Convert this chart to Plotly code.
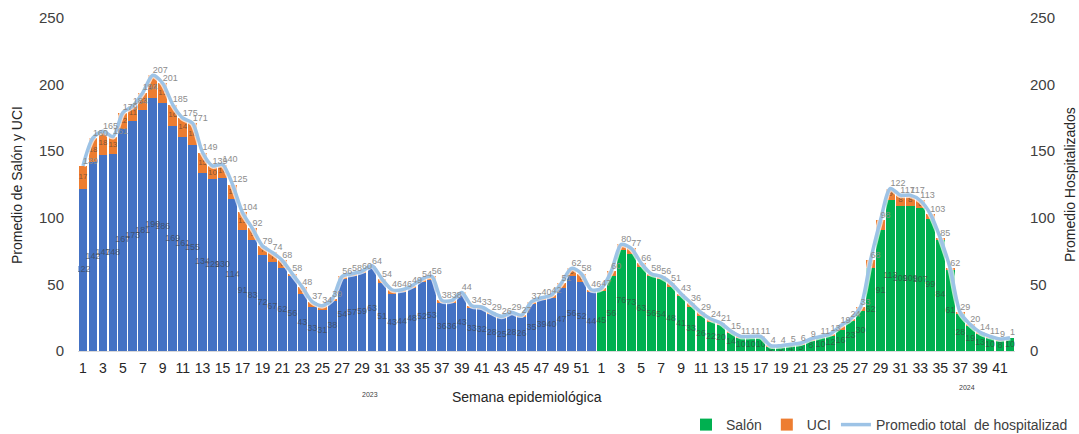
import plotly.graph_objects as go

# ---- data ----
salon_2023 = [122, 142, 147, 148, 167, 173, 181, 190, 186, 169, 161, 155, 134, 129, 130, 114,
              91, 83, 72, 67, 62, 56, 43, 33, 31, 38, 54, 57, 59, 63, 51, 43, 44, 48, 52, 53,
              36, 36, 43, 33, 32, 28, 25, 28, 26, 35, 39, 40, 47, 56, 52, 44]
uci_2023 = [17, 18, 18, 13, 12, 11, 13, 17, 15, 16, 14, 16, 15, 10, 10, 11,
            13, 9, 7, 7, 6, 2, 5, 4, 3, 1, 2, 1, 1, 1, 3, 3, 2, 1, 2, 3,
            2, 2, 1, 1, 1, 1, 1, 1, 1, 2, 1, 2, 4, 6, 6, 2]
salon_2024 = [45, 56, 76, 73, 63, 56, 54, 48, 41, 33, 26, 22, 20, 14, 10, 10, 10,
              3, 3, 4, 5, 8, 10, 12, 16, 23, 30, 62, 91, 113, 109, 109, 107, 99, 84,
              61, 28, 19, 13, 10, 8, 10]
uci_2024 = [2, 4, 4, 4, 3, 2, 2, 3, 2, 3, 3, 2, 1, 1, 1, 1, 1,
            1, 1, 1, 1, 1, 1, 1, 3, 1, 3, 6, 7, 9, 8, 8, 6, 4, 1,
            1, 1, 1, 1, 1, 1, 0]
weeks_2023 = list(range(1, 53))
weeks_2024 = list(range(1, 43))

# ---- derived ----
n23, n24 = len(weeks_2023), len(weeks_2024)
x23 = list(range(n23))
x24 = list(range(n23, n23 + n24))
xall = x23 + x24
salon_all = salon_2023 + salon_2024
uci_all = uci_2023 + uci_2024
total_all = [s + u for s, u in zip(salon_all, uci_all)]
week_all = weeks_2023 + weeks_2024
tickvals = [i for i, w in zip(xall, week_all) if w % 2 == 1]
ticktext = [str(w) for w in week_all if w % 2 == 1]

FONT = "Liberation Sans, Arial, sans-serif"
BLUE = "#4472C4"
GREEN = "#00B050"
ORANGE = "#ED7D31"
LINE = "#9DC3E6"

fig = go.Figure()

fig.add_trace(go.Bar(x=x23, y=salon_2023, marker_color=BLUE, marker_line_width=0,
                     showlegend=False, name="Salón 2023"))
fig.add_trace(go.Bar(x=x24, y=salon_2024, marker_color=GREEN, marker_line_width=0,
                     name="Salón"))
fig.add_trace(go.Bar(x=xall, y=uci_all, marker_color=ORANGE, marker_line_width=0,
                     name="UCI"))

# labels inside bars
fig.add_trace(go.Scatter(x=xall, y=[s / 2 for s in salon_all], mode="text",
                         text=[str(s) for s in salon_all],
                         textfont=dict(size=9, color="rgba(60,60,60,0.65)", family=FONT),
                         showlegend=False, hoverinfo="skip"))
fig.add_trace(go.Scatter(x=xall, y=[s + u / 2 for s, u in zip(salon_all, uci_all)], mode="text",
                         text=[str(u) if u >= 5 else "" for u in uci_all],
                         textfont=dict(size=8, color="rgba(60,60,60,0.65)", family=FONT),
                         showlegend=False, hoverinfo="skip"))

# total line (halo + line)
fig.add_trace(go.Scatter(x=xall, y=total_all, mode="lines", yaxis="y2",
                         line=dict(color="rgba(255,255,255,0.7)", width=6, shape="spline", smoothing=0.8),
                         showlegend=False, hoverinfo="skip"))
fig.add_trace(go.Scatter(x=xall, y=total_all, mode="lines+text", yaxis="y2",
                         line=dict(color=LINE, width=3.5, shape="spline", smoothing=0.8),
                         text=[str(t) for t in total_all], textposition="top right",
                         textfont=dict(size=9, color="#8c8c8c", family=FONT),
                         name="Promedio total  de hospitalizad"))

L, R, T, B = 78, 64, 18, 83
W, H = 1079, 434
pw = W - L - R
ph = H - T - B

def px_x(p):
    return (p - L) / pw

def px_y(p):
    return (H - B - p) / ph

def note(text, xp, yp, size, color="#262626", angle=0):
    return dict(text=text, x=px_x(xp), y=px_y(yp), xref="paper", yref="paper",
                xanchor="center", yanchor="middle", textangle=angle, showarrow=False,
                font=dict(size=size, color=color, family=FONT))

fig.update_layout(
    width=W, height=H,
    margin=dict(l=L, r=R, t=T, b=B, autoexpand=False),
    barmode="stack", bargap=0.12,
    plot_bgcolor="white", paper_bgcolor="white",
    font=dict(family=FONT, color="#404040"),
    xaxis=dict(range=[-0.5, n23 + n24 - 0.5], tickmode="array", tickvals=tickvals,
               ticktext=ticktext, tickangle=0, showgrid=False, zeroline=False,
               showline=True, linecolor="#d9d9d9", linewidth=1, ticks="",
               ticklabelstandoff=4,
               tickfont=dict(size=14, color="#262626", family=FONT)),
    yaxis=dict(range=[0, 250], dtick=50, showgrid=False, zeroline=False, ticks="",
               ticklabelstandoff=13,
               tickfont=dict(size=15, color="#404040", family=FONT)),
    yaxis2=dict(range=[0, 250], dtick=50, overlaying="y", side="right", showgrid=False,
                zeroline=False, ticks="", ticklabelstandoff=14,
                tickfont=dict(size=15, color="#404040", family=FONT)),
    legend=dict(orientation="h", x=px_x(686), y=px_y(425), xanchor="left", yanchor="middle",
                font=dict(size=14, color="#404040", family=FONT), bgcolor="rgba(0,0,0,0)",
                traceorder="normal"),
    annotations=[
        note("Semana epidemiológica", 527, 397, 14),
        note("2023", 370, 395, 7, "#404040"),
        note("2024", 967, 387, 7, "#404040"),
        note("Promedio de Salón y UCI", 17, 185, 14, angle=-90),
        note("Promedio Hospitalizados", 1070, 185, 14, angle=-90),
    ],
)

fig.write_html("out.html", config={"displayModeBar": False},
               post_script="document.body.style.margin='0px';document.body.style.overflow='hidden';")
